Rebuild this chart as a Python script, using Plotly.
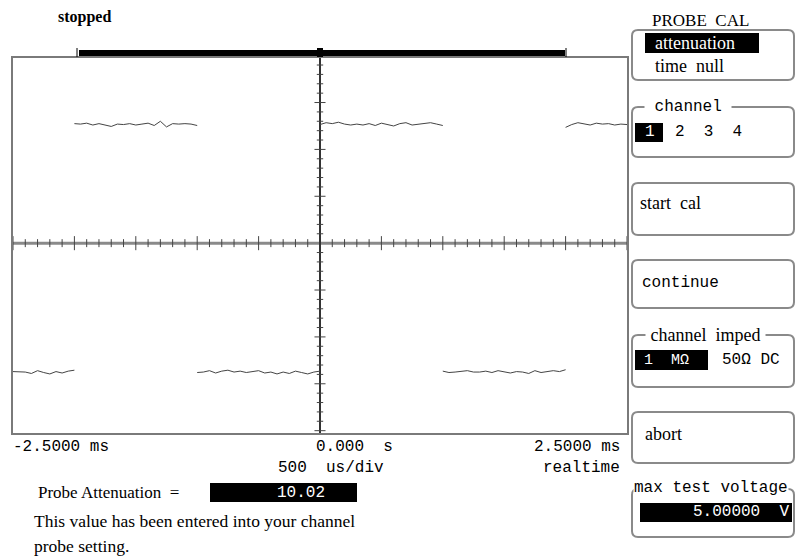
import plotly.graph_objects as go

# ---------------- data ----------------
# time base in ms, waveform in vertical divisions (None separates segments)
sample_ms = [
    -2.50, -2.45, -2.40, -2.35, -2.30, -2.25, -2.20, -2.15, -2.10, -2.05, -2.00, None,
    -2.00, -1.95, -1.90, -1.85, -1.80, -1.75, -1.70, -1.65, -1.60, -1.55, -1.50,
    -1.45, -1.40, -1.35, -1.30, -1.25, -1.20, -1.15, -1.10, -1.05, -1.00, None,
    -1.00, -0.95, -0.90, -0.85, -0.80, -0.75, -0.70, -0.65, -0.60, -0.55, -0.50,
    -0.45, -0.40, -0.35, -0.30, -0.25, -0.20, -0.15, -0.10, -0.05, 0.00, None,
    0.00, 0.05, 0.10, 0.15, 0.20, 0.25, 0.30, 0.35, 0.40, 0.45, 0.50,
    0.55, 0.60, 0.65, 0.70, 0.75, 0.80, 0.85, 0.90, 0.95, 1.00, None,
    1.00, 1.05, 1.10, 1.15, 1.20, 1.25, 1.30, 1.35, 1.40, 1.45, 1.50,
    1.55, 1.60, 1.65, 1.70, 1.75, 1.80, 1.85, 1.90, 1.95, 2.00, None,
    2.00, 2.05, 2.10, 2.15, 2.20, 2.25, 2.30, 2.35, 2.40, 2.45, 2.50,
]
trace_div = [
    -2.74, -2.75, -2.75, -2.78, -2.72, -2.76, -2.79, -2.74, -2.77, -2.73, -2.71, None,
    2.55, 2.54, 2.56, 2.52, 2.55, 2.52, 2.49, 2.54, 2.53, 2.55, 2.52,
    2.54, 2.56, 2.51, 2.60, 2.48, 2.55, 2.54, 2.55, 2.54, 2.51, None,
    -2.76, -2.75, -2.72, -2.77, -2.73, -2.71, -2.75, -2.73, -2.76, -2.74, -2.72,
    -2.77, -2.75, -2.79, -2.75, -2.78, -2.73, -2.76, -2.79, -2.75, -2.73, None,
    2.53, 2.57, 2.55, 2.58, 2.54, 2.52, 2.54, 2.52, 2.55, 2.51, 2.56,
    2.53, 2.50, 2.55, 2.57, 2.52, 2.54, 2.55, 2.57, 2.54, 2.51, None,
    -2.73, -2.76, -2.75, -2.74, -2.72, -2.75, -2.75, -2.73, -2.76, -2.72, -2.74,
    -2.77, -2.74, -2.75, -2.78, -2.72, -2.76, -2.74, -2.72, -2.74, -2.70, None,
    2.47, 2.53, 2.57, 2.55, 2.52, 2.56, 2.54, 2.55, 2.52, 2.54, 2.53,
]
time_labels = ["-2.5000 ms", "0.000  s", "2.5000 ms"]
timebase_label = "500  us/div"
mode_label = "realtime"
probe_attenuation = "10.02"
max_test_voltage = "5.00000  V"

# ---------------- geometry helpers ----------------
W, H = 795, 559
L, T, R, B = 13, 58, 627, 433
PW, PH = R - L, B - T

def xp(px):
    return (px - L) / PW

def yp(py):
    return (B - py) / PH

def P(x, y):
    return f"{xp(x):.5f},{yp(y):.5f}"

def rbox(x0, y0, x1, y1, r=6):
    return (f"M{P(x0 + r, y0)} L{P(x1 - r, y0)} Q{P(x1, y0)} {P(x1, y0 + r)} "
            f"L{P(x1, y1 - r)} Q{P(x1, y1)} {P(x1 - r, y1)} L{P(x0 + r, y1)} "
            f"Q{P(x0, y1)} {P(x0, y1 - r)} L{P(x0, y0 + r)} Q{P(x0, y0)} {P(x0 + r, y0)} Z")

fig = go.Figure()

# graticule ticks along the center axes
tx, ty = [], []
for k in range(-25, 26):
    if k == 0:
        continue
    t = k * 0.1
    h = 0.15 if k % 5 == 0 else 0.085
    tx += [t, t, None]
    ty += [-h, h, None]
for j in range(-20, 21):
    if j == 0:
        continue
    v = j * 0.2
    w = 0.045 if j % 5 == 0 else 0.026
    tx += [-w, w, None]
    ty += [v, v, None]

fig.add_trace(go.Scatter(x=tx, y=ty, mode="lines", line=dict(color="#444", width=1),
                         hoverinfo="skip", showlegend=False))

fig.add_trace(go.Scatter(x=sample_ms, y=trace_div, mode="lines",
                         line=dict(color="#444", width=1), connectgaps=False,
                         showlegend=False))

shapes = []
# center lines
shapes.append(dict(type="line", xref="x", yref="y", x0=-2.5, x1=2.5, y0=0, y1=0,
                   line=dict(color="#8a8a8a", width=3), layer="below"))
shapes.append(dict(type="line", xref="x", yref="y", x0=0, x1=0, y0=-4.05, y1=3.95,
                   line=dict(color="#333", width=2), layer="below"))

# top acquisition bar
shapes.append(dict(type="rect", xref="paper", yref="paper", x0=xp(79), x1=xp(565),
                   y0=yp(56), y1=yp(50), fillcolor="black", line=dict(width=0)))
shapes.append(dict(type="line", xref="paper", yref="paper", x0=xp(77), x1=xp(77),
                   y0=yp(57), y1=yp(48), line=dict(color="black", width=1)))
shapes.append(dict(type="line", xref="paper", yref="paper", x0=xp(566), x1=xp(566),
                   y0=yp(57), y1=yp(48), line=dict(color="black", width=1)))
shapes.append(dict(type="rect", xref="paper", yref="paper", x0=xp(317), x1=xp(323),
                   y0=yp(57), y1=yp(48), fillcolor="black", line=dict(width=0)))

# softkey boxes
box_line = dict(color="#8a8a8a", width=2)
for (y0, y1) in [(30, 80), (107, 157), (183, 235), (260, 308), (335, 387), (412, 463), (489, 537)]:
    shapes.append(dict(type="path", xref="paper", yref="paper", path=rbox(632, y0, 794, y1),
                       line=box_line))

# black highlight boxes
for (x0, y0, x1, y1) in [(645, 33, 759, 53), (635, 123, 663, 142), (635, 350, 708, 370),
                         (640, 503, 792, 522), (210, 483, 357, 502)]:
    shapes.append(dict(type="rect", xref="paper", yref="paper", x0=xp(x0), x1=xp(x1),
                       y0=yp(y1), y1=yp(y0), fillcolor="black", line=dict(width=0)))

annotations = []

def txt(s, x, y, font, size, color="black", anchor="left", bg=None, bold=False):
    if bold:
        s = f"<b>{s}</b>"
    a = dict(text=s, x=xp(x), y=yp(y), xref="paper", yref="paper", showarrow=False,
             xanchor=anchor, yanchor="middle", font=dict(family=font, size=size, color=color),
             borderpad=0)
    if bg:
        a["bgcolor"] = bg
    annotations.append(a)

SERIF = "Liberation Serif, Times New Roman, serif"
MONO = "Liberation Mono, DejaVu Sans Mono, monospace"

txt("stopped", 57, 17, SERIF, 16, bold=True)
txt("PROBE  CAL", 651, 20, SERIF, 17)
txt("attenuation", 654, 43, SERIF, 18, color="white")
txt("time  null", 654, 66, SERIF, 18)
txt(" channel ", 644, 107, MONO, 16, bg="white")
txt("1", 644, 132, MONO, 16, color="white")
txt("2  3  4", 674, 132, MONO, 16)
txt("start  cal", 639, 203, SERIF, 18)
txt("continue", 641, 283, MONO, 16)
txt(" channel  imped ", 645, 335, SERIF, 18, bg="white")
txt("1  MΩ", 643, 360, MONO, 15, color="white")
txt("50Ω DC", 721, 360, MONO, 16)
txt("abort", 644, 434, SERIF, 18)
txt("max test voltage", 633, 488, MONO, 16, bg="white")
txt(max_test_voltage, 790, 512, MONO, 16, color="white", anchor="right")

txt(time_labels[0], 12, 447, MONO, 16)
txt(time_labels[1], 315, 447, MONO, 16)
txt(time_labels[2], 621, 447, MONO, 16, anchor="right")
txt(timebase_label, 277, 468, MONO, 16)
txt(mode_label, 621, 468, MONO, 16, anchor="right")

txt("Probe Attenuation  =", 37, 493, SERIF, 17)
txt(probe_attenuation, 301, 493, MONO, 16, color="white", anchor="center")
txt("This value has been entered into your channel", 33, 521, SERIF, 17.5)
txt("probe setting.", 33, 546, SERIF, 17.5)

fig.update_layout(
    width=W, height=H,
    margin=dict(l=L, r=W - R, t=T, b=H - B, pad=0),
    paper_bgcolor="white", plot_bgcolor="white",
    xaxis=dict(range=[-2.5, 2.5], showgrid=False, zeroline=False, showticklabels=False,
               ticks="", showline=True, mirror=True, linecolor="#7a7a7a", linewidth=2,
               fixedrange=True),
    yaxis=dict(range=[-4.05, 3.95], showgrid=False, zeroline=False, showticklabels=False,
               ticks="", showline=True, mirror=True, linecolor="#7a7a7a", linewidth=2,
               fixedrange=True),
    shapes=shapes, annotations=annotations, showlegend=False,
)

fig.write_html("out.html", config={"displayModeBar": False},
               post_script="document.body.style.margin='0px';document.body.style.overflow='hidden';")
